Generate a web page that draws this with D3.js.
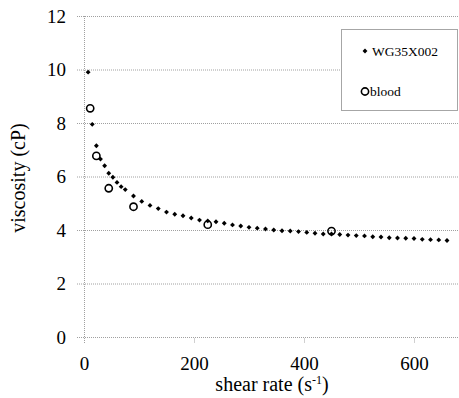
<!DOCTYPE html>
<html>
<head>
<meta charset="utf-8">
<script src="https://cdn.jsdelivr.net/npm/d3@7"></script>
<style>
  body { margin: 0; background: #fff; }
  svg text { font-family: "Liberation Serif", "Times New Roman", serif; fill: #000; }
</style>
</head>
<body>
<script>
// shear rate (1/s) and viscosity (cP)
var wgRate = [7.5, 15, 22.5, 30, 37.5, 45, 52.5, 60, 67.5, 75,
              90, 105, 120, 135, 150, 165, 180, 195, 210, 225, 240, 255, 270, 285, 300,
              315, 330, 345, 360, 375, 390, 405, 420, 435, 450, 465, 480, 495, 510,
              525, 540, 555, 570, 585, 600, 615, 630, 645, 660];
var wgVisc = [9.9, 7.95, 7.15, 6.65, 6.4, 6.12, 5.97, 5.78, 5.62, 5.51,
              5.27, 5.07, 4.92, 4.8, 4.67, 4.59, 4.53, 4.45, 4.37, 4.34, 4.31, 4.25, 4.19, 4.15, 4.1,
              4.07, 4.04, 4.0, 3.97, 3.96, 3.94, 3.91, 3.88, 3.85, 3.85, 3.83, 3.81, 3.79, 3.78,
              3.75, 3.74, 3.71, 3.7, 3.69, 3.68, 3.65, 3.64, 3.63, 3.61];
var bloodRate = [11.25, 22.5, 45, 90, 225, 450];
var bloodVisc = [8.55, 6.77, 5.56, 4.87, 4.2, 3.96];
var xTicks = [0, 200, 400, 600];
var yTicks = [0, 2, 4, 6, 8, 10, 12];
var seriesNames = ["WG35X002", "blood"];

var width = 459, height = 398;
var serif = '"Liberation Serif", "Times New Roman", serif';
var x = d3.scaleLinear().domain([0, 700]).range([84, 469]);
var y = d3.scaleLinear().domain([0, 12]).range([337, 16]);

var svg = d3.select("body").append("svg")
    .attr("width", width).attr("height", height);

// grid
svg.append("g").selectAll("line")
    .data(yTicks).enter().append("line")
    .attr("x1", x(0) - 7).attr("x2", width)
    .attr("y1", d => y(d) + 0.5).attr("y2", d => y(d) + 0.5)
    .attr("stroke", "#a0a0a0").attr("stroke-dasharray", "1,1");
svg.append("line")
    .attr("x1", x(0) + 0.5).attr("x2", x(0) + 0.5)
    .attr("y1", y(12)).attr("y2", y(0) + 7)
    .attr("stroke", "#a0a0a0").attr("stroke-dasharray", "1,1");

// light ticks under the x axis
svg.append("g").selectAll("line")
    .data(xTicks.slice(1)).enter().append("line")
    .attr("x1", d => x(d) + 0.5).attr("x2", d => x(d) + 0.5)
    .attr("y1", y(0) + 1).attr("y2", y(0) + 6)
    .attr("stroke", "#d0d0d0");

// axes (labels only)
var yAxis = d3.axisLeft(y).tickValues(yTicks).tickSize(0).tickPadding(18);
var gy = svg.append("g").attr("transform", "translate(" + x(0) + ",0)").call(yAxis);
var xAxis = d3.axisBottom(x).tickValues(xTicks).tickSize(0).tickPadding(20);
var gx = svg.append("g").attr("transform", "translate(0," + y(0) + ")").call(xAxis);
[gy, gx].forEach(g => {
  g.select(".domain").remove();
  g.attr("font-family", null).attr("font-size", null);
  g.selectAll("text").style("font-size", "19px").style("font-family", serif).style("fill", "#000");
});

// marks
var diamond = d3.symbol().type(d3.symbolSquare).size(12);
svg.append("g").selectAll("path")
    .data(wgRate).enter().append("path")
    .attr("d", diamond)
    .attr("transform", (d, i) => "translate(" + x(d) + "," + y(wgVisc[i]) + ") rotate(45)")
    .attr("fill", "#000");
svg.append("g").selectAll("circle")
    .data(bloodRate).enter().append("circle")
    .attr("cx", d => x(d)).attr("cy", (d, i) => y(bloodVisc[i]))
    .attr("r", 3.6)
    .attr("fill", "none").attr("stroke", "#000").attr("stroke-width", 1.6);

// legend
var legend = svg.append("g").attr("id", "legend");
legend.append("rect")
    .attr("x", 341.5).attr("y", 29.5).attr("width", 116).attr("height", 81)
    .attr("fill", "#fff").attr("stroke", "#a6a6a6");
legend.append("path")
    .attr("d", diamond)
    .attr("transform", "translate(365,51) rotate(45)")
    .attr("fill", "#000");
legend.append("circle")
    .attr("cx", 365).attr("cy", 91.5).attr("r", 3.6)
    .attr("fill", "none").attr("stroke", "#000").attr("stroke-width", 1.6);
legend.selectAll(".lbl")
    .data(seriesNames).enter().append("text")
    .attr("class", "lbl")
    .attr("x", (d, i) => i === 0 ? 372 : 370)
    .attr("y", (d, i) => i === 0 ? 55.5 : 95.7)
    .style("font-size", "13.5px").style("font-family", serif)
    .text(d => d);

// axis titles
svg.append("text")
    .attr("transform", "translate(25,178) rotate(-90)")
    .attr("text-anchor", "middle")
    .style("font-size", "20px").style("font-family", serif)
    .text("viscosity (cP)");
var xt = svg.append("text")
    .attr("x", 272).attr("y", 391)
    .attr("text-anchor", "middle")
    .style("font-size", "20px").style("font-family", serif);
xt.append("tspan").text("shear rate (s");
xt.append("tspan").style("font-size", "12px").attr("dy", -7).text("-1");
xt.append("tspan").attr("dy", 7).text(")");
</script>
</body>
</html>
